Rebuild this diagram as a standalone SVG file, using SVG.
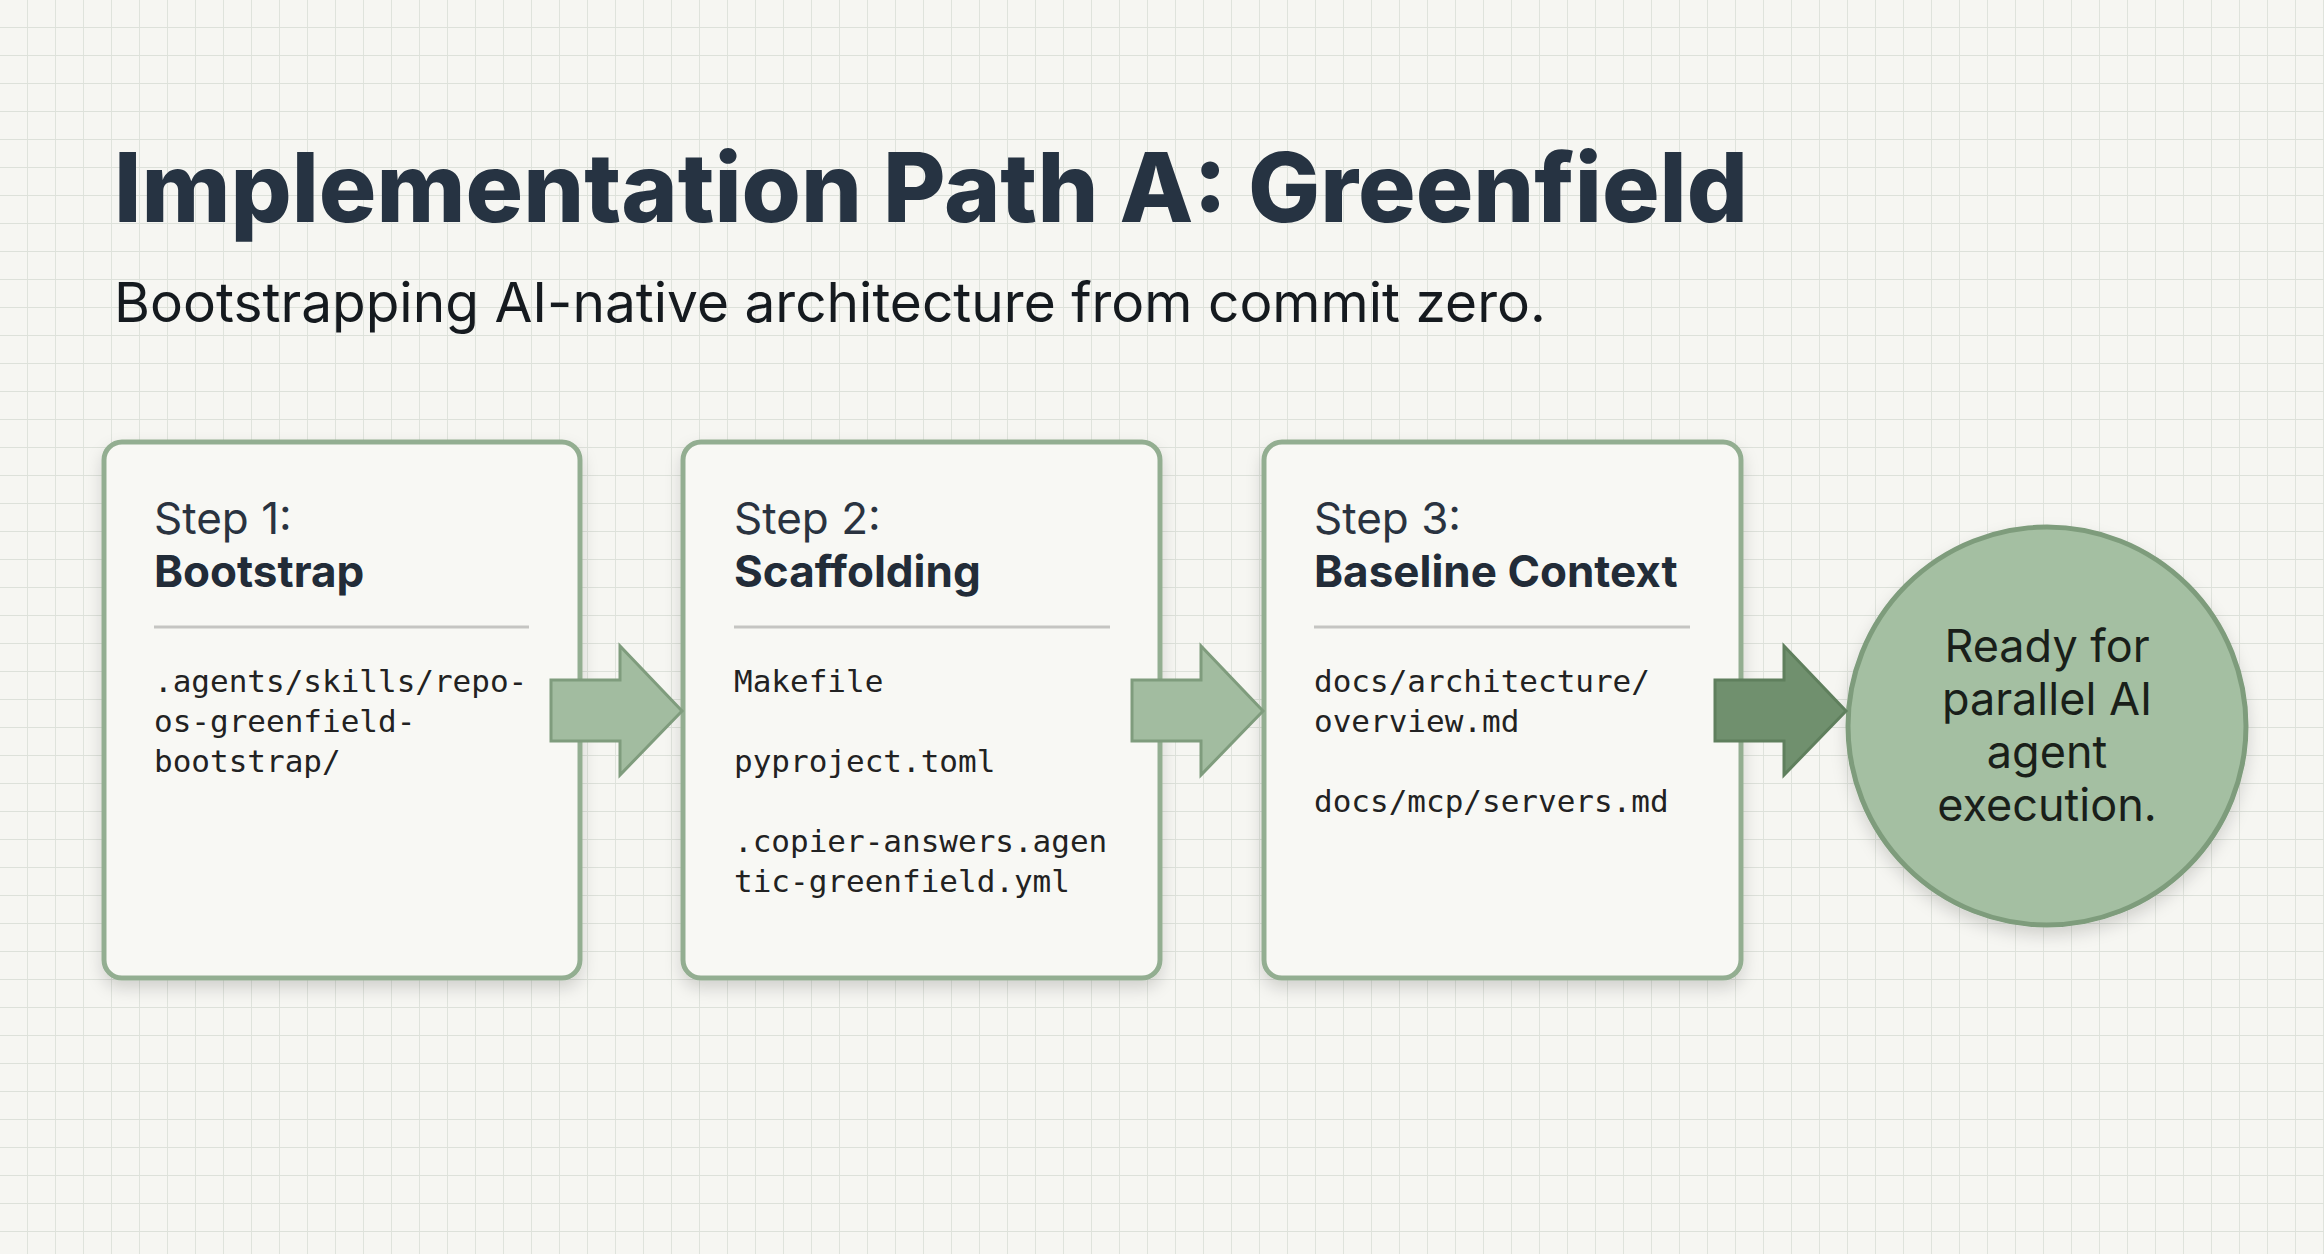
<svg xmlns="http://www.w3.org/2000/svg" width="2324" height="1254" viewBox="0 0 2324 1254">
<defs>
<pattern id="grid" width="28" height="28" patternUnits="userSpaceOnUse">
<path d="M28 0V28M0 28H28" fill="none" stroke="#dde1da" stroke-width="1.8"/>
</pattern>
<filter id="sh" x="-10%" y="-10%" width="120%" height="125%">
<feDropShadow dx="0" dy="8" stdDeviation="8" flood-color="#000" flood-opacity="0.15"/>
</filter>
<style>
.box{fill:#f8f8f4;stroke:#93ae91;stroke-width:5}
.step{font-family:Inter,"Liberation Sans",sans-serif;font-size:44px;fill:#2a3340}
.bold{font-weight:700;fill:#222c38}
.mono{font-family:"DejaVu Sans Mono","Liberation Mono",monospace;font-size:31px;fill:#222}
.div{stroke:#c5c5c2;stroke-width:3}
.arr{fill:#a2bca0;stroke:#7f9c7d;stroke-width:3}
.circ{font-family:Inter,"Liberation Sans",sans-serif;font-size:45px;fill:#1a1f1a;text-anchor:middle}
</style>
</defs>
<rect width="2324" height="1254" fill="#f6f6f2"/>
<rect width="2324" height="1254" fill="url(#grid)"/>
<text x="114" y="222" font-family="Inter,'Liberation Sans',sans-serif" font-weight="800" font-size="96" fill="#263342">Implementation Path A: Greenfield</text>
<text x="114" y="322" font-family="Inter,'Liberation Sans',sans-serif" font-size="55" fill="#151a1f">Bootstrapping AI-native architecture from commit zero.</text>
<g id="step1">
<rect class="box" x="104" y="442" width="476" height="536" rx="18" filter="url(#sh)"/>
<text class="step" x="154" y="534">Step 1:</text>
<text class="step bold" x="154" y="587">Bootstrap</text>
<line class="div" x1="154" y1="627" x2="529" y2="627"/>
<text class="mono" x="154" y="692">.agents/skills/repo-</text>
<text class="mono" x="154" y="732">os-greenfield-</text>
<text class="mono" x="154" y="772">bootstrap/</text>
</g>
<g id="step2">
<rect class="box" x="683" y="442" width="477" height="536" rx="18" filter="url(#sh)"/>
<text class="step" x="734" y="534">Step 2:</text>
<text class="step bold" x="734" y="587">Scaffolding</text>
<line class="div" x1="734" y1="627" x2="1110" y2="627"/>
<text class="mono" x="734" y="692">Makefile</text>
<text class="mono" x="734" y="772">pyproject.toml</text>
<text class="mono" x="734" y="852">.copier-answers.agen</text>
<text class="mono" x="734" y="892">tic-greenfield.yml</text>
</g>
<g id="step3">
<rect class="box" x="1264" y="442" width="477" height="536" rx="18" filter="url(#sh)"/>
<text class="step" x="1314" y="534">Step 3:</text>
<text class="step bold" x="1314" y="587">Baseline Context</text>
<line class="div" x1="1314" y1="627" x2="1690" y2="627"/>
<text class="mono" x="1314" y="692">docs/architecture/</text>
<text class="mono" x="1314" y="732">overview.md</text>
<text class="mono" x="1314" y="812">docs/mcp/servers.md</text>
</g>
<g id="ready">
<circle cx="2047" cy="726" r="199" fill="#a4bfa2" stroke="#7e9c7c" stroke-width="5" filter="url(#sh)"/>
<text class="circ" x="2047" y="662">Ready for</text>
<text class="circ" x="2047" y="715">parallel AI</text>
<text class="circ" x="2047" y="768">agent</text>
<text class="circ" x="2047" y="821">execution.</text>
</g>
<g id="connectors">
<path class="arr" d="M551 680H620V646L682 711L620 775V741H551Z"/>
<path class="arr" d="M1132 680H1201V646L1263 711L1201 775V741H1132Z"/>
<path class="arr" style="fill:#70906e;stroke:#5f7f5d" d="M1715 680H1784V646L1846 711L1784 775V741H1715Z"/>
</g>
</svg>
